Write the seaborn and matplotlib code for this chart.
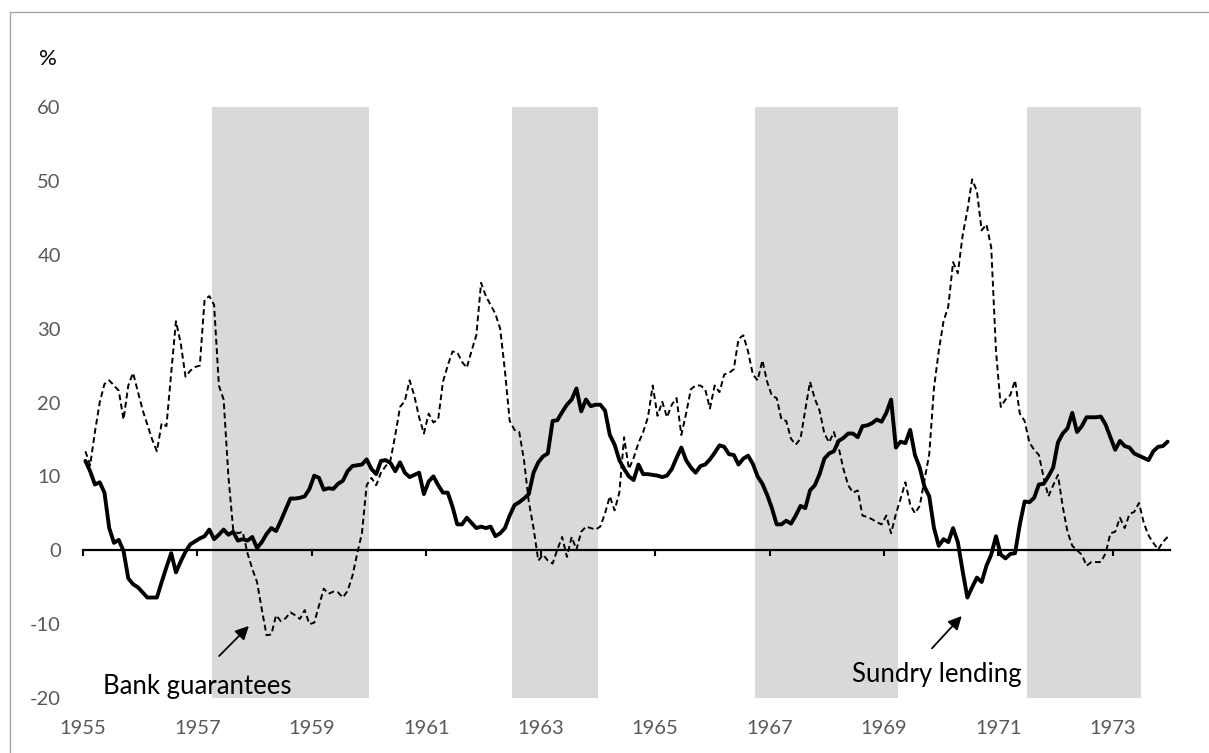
import pandas as pd
import matplotlib.pyplot as plt
import seaborn as sns
from matplotlib.lines import Line2D

# Monthly series, Jan 1955 - Dec 1973 (% change)
months = pd.date_range('1955-01-01', '1973-12-01', freq='MS')

bank_guarantees = [
    13.4, 11.5, 16, 20, 22.5, 23, 22.3, 21.6, 17.7, 22.3, 24, 21.5,          # 1955
    19, 17, 15, 13.4, 17.2, 16.8, 24, 31, 28, 23.5, 24.3, 24.8,               # 1956
    25, 33.9, 34.4, 33.2, 22.3, 20.4, 10, 2.8, 2.3, 2.5, -0.4, -2.5,          # 1957
    -4.3, -8, -11.5, -11.4, -8.8, -9.6, -9.2, -8.4, -8.8, -9.3, -8.1, -10,    # 1958
    -9.8, -7.5, -5.2, -5.9, -5.6, -5.7, -6.4, -5.5, -3.5, -0.5, 2.3, 8.8,     # 1959
    9.8, 8.8, 10.5, 11.4, 12.2, 15.6, 19.4, 20.2, 23, 20.9, 18, 15.8,         # 1960
    18.5, 17.3, 17.7, 22.8, 25, 26.9, 26.8, 25.5, 24.7, 27, 29.1, 36.2,       # 1961
    34.4, 33.2, 32, 30, 24.3, 17.5, 16.3, 16, 12.2, 6.6, 3, -1.4,             # 1962
    -0.6, -1.4, -1.8, 0.1, 1.8, -0.9, 1.8, 0.1, 2.5, 3.2, 3, 2.8,             # 1963
    3.2, 5, 7.3, 5.4, 7.8, 15.3, 11, 12.5, 14.5, 16, 18, 22.3,                # 1964
    18.2, 20.1, 18, 19.7, 20.6, 15.6, 18.5, 21.8, 22.3, 22.3, 21.8, 19.2,     # 1965
    22.3, 21.4, 23.8, 24, 24.5, 28.6, 29.1, 26.9, 23.8, 23, 25.7, 22.8,       # 1966
    20.9, 20.6, 17.7, 17.5, 15.1, 14.3, 15.1, 19, 22.8, 20.5, 18.9, 15.8,     # 1967
    14.6, 16, 13.9, 11, 8.8, 7.8, 8.1, 4.7, 4.5, 4.2, 3.8, 3.5,               # 1968
    4.7, 2.3, 4.9, 7, 9.2, 6.2, 5, 6, 9.5, 13, 22, 27,                        # 1969
    31, 33, 39, 37.5, 42.6, 46, 50.2, 48.6, 43.3, 44.1, 41, 27,               # 1970
    19.4, 20.4, 21, 23, 18.5, 17.5, 14.6, 13.6, 12.9, 9.8, 7.3, 8.8,          # 1971
    10.2, 5.9, 2.5, 0.6, 0, -0.6, -2.1, -1.6, -1.6, -1.6, -0.4, 2.3,          # 1972
    2.5, 4.4, 3, 4.9, 5.2, 6.4, 3.7, 2, 1, 0.1, 1.1, 1.8,                     # 1973
]

sundry_lending = [
    12.1, 10.7, 8.9, 9.2, 7.8, 3, 1, 1.4, -0.1, -3.8, -4.6, -5,               # 1955
    -5.7, -6.4, -6.4, -6.4, -4.3, -2.3, -0.4, -3, -1.5, -0.2, 0.8, 1.2,       # 1956
    1.6, 1.9, 2.8, 1.5, 2.1, 2.8, 2.1, 2.5, 1.3, 1.5, 1.3, 1.8,               # 1957
    0.3, 1.1, 2.2, 3, 2.6, 4, 5.5, 7, 7, 7.1, 7.3, 8.3,                       # 1958
    10.1, 9.8, 8.2, 8.4, 8.3, 9, 9.4, 10.7, 11.4, 11.5, 11.6, 12.3,           # 1959
    11, 10.3, 12.1, 12.2, 11.8, 10.7, 11.9, 10.5, 9.9, 10.2, 10.5, 7.6,       # 1960
    9.3, 10, 8.8, 7.8, 7.8, 5.9, 3.5, 3.5, 4.4, 3.7, 3, 3.2,                  # 1961
    3, 3.2, 1.9, 2.3, 3, 4.7, 6.1, 6.5, 7, 7.6, 10.5, 11.9,                   # 1962
    12.7, 13.1, 17.5, 17.6, 18.7, 19.7, 20.4, 21.9, 18.8, 20.4, 19.5, 19.7,   # 1963
    19.7, 18.9, 15.6, 14.3, 12.2, 11, 10, 9.5, 11.6, 10.3, 10.3, 10.2,        # 1964
    10.1, 9.9, 10.1, 11, 12.5, 13.9, 12.2, 11.2, 10.5, 11.4, 11.6, 12.3,      # 1965
    13.2, 14.2, 14, 13, 12.9, 11.6, 12.4, 12.8, 11.7, 10, 9, 7.5,             # 1966
    5.7, 3.5, 3.5, 4, 3.6, 4.7, 6, 5.7, 8.1, 8.8, 10.3, 12.4,                 # 1967
    13.1, 13.4, 14.8, 15.2, 15.8, 15.8, 15.3, 16.8, 16.9, 17.2, 17.7, 17.4,   # 1968
    18.6, 20.4, 13.9, 14.7, 14.5, 16.3, 12.9, 11.2, 8.6, 7.3, 3, 0.6,         # 1969
    1.5, 1.1, 3, 1.1, -2.8, -6.4, -5, -3.7, -4.3, -2.1, -0.6, 1.9,            # 1970
    -0.6, -1.1, -0.5, -0.4, 3.5, 6.6, 6.5, 7.1, 8.9, 9, 10, 11.2,             # 1971
    14.6, 15.8, 16.5, 18.6, 16, 16.8, 18, 18, 18, 18.1, 17, 15.3,             # 1972
    13.6, 14.8, 14.1, 13.9, 13.1, 12.8, 12.5, 12.2, 13.4, 14, 14.1, 14.7,     # 1973
]

# shaded periods (decimal years)
shade_start = [1957.25, 1962.5, 1966.75, 1971.5]
shade_end = [1960.0, 1964.0, 1969.25, 1973.5]

year_ticks = list(range(1955, 1974, 2))
y_ticks = list(range(-20, 61, 10))

df = pd.DataFrame({
    'year': months.year + (months.month - 0.5) / 12,
    'Bank guarantees': bank_guarantees,
    'Sundry lending': sundry_lending,
})

sns.set_style('white')
plt.rcParams['font.family'] = ['Lato', 'DejaVu Sans']
plt.rcParams['axes.unicode_minus'] = False

fig = plt.figure(figsize=(12.09, 7.53), dpi=100)
ax = fig.add_axes([83 / 1209, 1 - 698 / 753, (1170 - 83) / 1209, (698 - 107) / 753])

for s, e in zip(shade_start, shade_end):
    ax.axvspan(s, e, color='#d9d9d9', lw=0, zorder=0)

sns.lineplot(x='year', y='Bank guarantees', data=df, color='black', linewidth=1.4,
             linestyle=(0, (3, 1.8)), ax=ax, zorder=3)
sns.lineplot(x='year', y='Sundry lending', data=df, color='black', linewidth=2.8,
             ax=ax, zorder=4)

ax.set_xlim(1955, 1974)
ax.set_ylim(-20, 60)
ax.set_xlabel('')
ax.set_ylabel('')

# horizontal axis drawn through zero
for side in ['top', 'right', 'left']:
    ax.spines[side].set_visible(False)
ax.spines['bottom'].set_position(('data', 0))
ax.spines['bottom'].set_linewidth(1.6)
ax.spines['bottom'].set_color('black')
ax.spines['bottom'].set_zorder(2)

ax.set_xticks(year_ticks)
ax.set_xticklabels([str(y) for y in year_ticks])
ax.tick_params(axis='x', direction='out', length=4.5, width=1.5, color='black',
               pad=118, labelsize=14.5, labelcolor='#595959', bottom=True)
ax.set_yticks(y_ticks)
ax.tick_params(axis='y', length=0, pad=16, labelsize=14.5, labelcolor='#595959')

fig.text(48 / 1209, 1 - 59 / 753, '%', ha='center', va='center', fontsize=16, color='black')

ax.text(1955.35, -19.46, 'Bank guarantees', ha='left', va='baseline', fontsize=18.5, color='black')
ax.text(1971.41, -17.83, 'Sundry lending', ha='right', va='baseline', fontsize=18.5, color='black')
arrow = dict(arrowstyle='-|>', color='black', lw=1.3, mutation_scale=20, shrinkA=0, shrinkB=0)
ax.annotate('', xy=(1957.90, -10.25), xytext=(1957.38, -14.31), arrowprops=arrow)
ax.annotate('', xy=(1970.36, -8.90), xytext=(1969.84, -13.27), arrowprops=arrow)

# chart-area frame (left and top edges visible)
fx, fy = 10 / 1209, 1 - 12 / 753
fig.add_artist(Line2D([fx, fx], [0, fy], color='#a6a6a6', lw=1.0))
fig.add_artist(Line2D([fx, 1], [fy, fy], color='#a6a6a6', lw=1.0))

fig.savefig('out.png', dpi=100)
